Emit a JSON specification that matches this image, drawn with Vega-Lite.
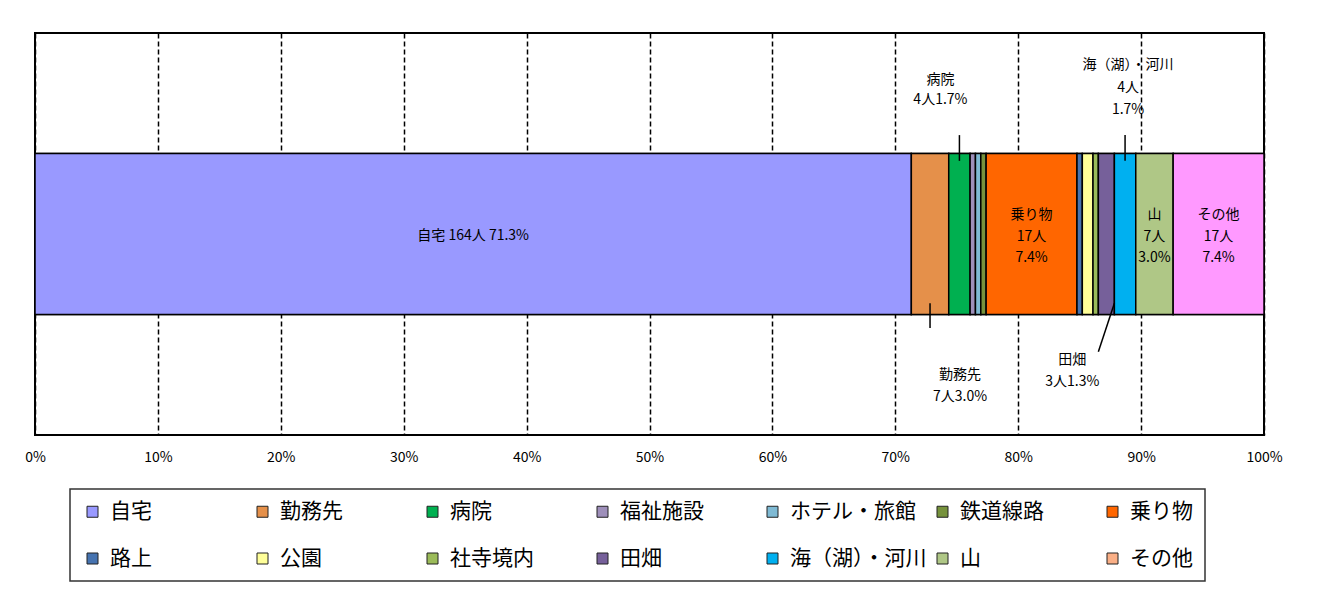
{
  "$schema": "https://vega.github.io/schema/vega-lite/v6.json",
  "autosize": {"type": "none"},
  "padding": {"left": 35, "top": 33, "right": 64, "bottom": 164},
  "width": 1229,
  "height": 402,
  "background": "white",
  "data": {
    "values": [
      {"place": "自宅", "count": 164, "label": "自宅 164人 71.3%"},
      {"place": "勤務先", "count": 7, "label": "勤務先\n7人3.0%"},
      {"place": "病院", "count": 4, "label": "病院\n4人1.7%"},
      {"place": "福祉施設", "count": 1, "label": ""},
      {"place": "ホテル・旅館", "count": 1, "label": ""},
      {"place": "鉄道線路", "count": 1, "label": ""},
      {"place": "乗り物", "count": 17, "label": "乗り物\n17人\n7.4%"},
      {"place": "路上", "count": 1, "label": ""},
      {"place": "公園", "count": 2, "label": ""},
      {"place": "社寺境内", "count": 1, "label": ""},
      {"place": "田畑", "count": 3, "label": "田畑\n3人1.3%"},
      {"place": "海（湖）・河川", "count": 4, "label": "海（湖）・河川\n4人\n1.7%"},
      {"place": "山", "count": 7, "label": "山\n7人\n3.0%"},
      {"place": "その他", "count": 17, "label": "その他\n17人\n7.4%"}
    ]
  },
  "transform": [
    {"window": [{"op": "row_number", "as": "rank"}]},
    {"stack": "count", "groupby": [], "sort": [{"field": "rank", "order": "ascending"}], "offset": "normalize", "as": ["x0", "x1"]},
    {"fold": ["x0", "x1"], "as": ["edge", "pos"]},
    {"joinaggregate": [{"op": "mean", "field": "pos", "as": "mid"}], "groupby": ["place"]},
    {"filter": "datum.edge === 'x0'"}
  ],
  "layer": [
    {
      "mark": {"type": "rect", "stroke": "black", "strokeWidth": 1.5},
      "encoding": {
        "x": {
          "field": "x0",
          "type": "quantitative",
          "title": null,
          "scale": {"domain": [0, 1], "nice": false},
          "axis": {"values": [0, 0.1, 0.2, 0.3, 0.4, 0.5, 0.6, 0.7, 0.8, 0.9, 1], "format": ".0%"}
        },
        "x2": {"field": "x1"},
        "y": {"datum": 3, "type": "quantitative", "scale": {"domain": [0, 10]}, "axis": null},
        "y2": {"datum": 7},
        "color": {
          "field": "place",
          "type": "nominal",
          "scale": {
            "domain": ["自宅", "勤務先", "病院", "福祉施設", "ホテル・旅館", "鉄道線路", "乗り物", "路上", "公園", "社寺境内", "田畑", "海（湖）・河川", "山", "その他"],
            "range": ["#9999FF", "#E5904A", "#00B050", "#9E8FBA", "#7FBAD4", "#76923C", "#FF6600", "#4673B0", "#FFFF99", "#9BBB59", "#76609A", "#00B0F0", "#AFC786", "#FAAF86"]
          },
          "legend": {
            "encode": {"symbols": {"update": {"stroke": {"value": "#222222"}, "strokeWidth": {"value": 1}}}}
          }
        }
      }
    },
    {
      "mark": {"type": "rect", "stroke": "black", "strokeWidth": 1.5},
      "encoding": {
        "x": {"field": "x0", "type": "quantitative", "title": null, "scale": {"domain": [0, 1], "nice": false}},
        "x2": {"field": "x1"},
        "y": {"datum": 3, "type": "quantitative", "scale": {"domain": [0, 10]}, "axis": null},
        "y2": {"datum": 7},
        "fill": {
          "field": "place",
          "type": "nominal",
          "scale": {
            "domain": ["自宅", "勤務先", "病院", "福祉施設", "ホテル・旅館", "鉄道線路", "乗り物", "路上", "公園", "社寺境内", "田畑", "海（湖）・河川", "山", "その他"],
            "range": ["#9999FF", "#E5904A", "#00B050", "#9E8FBA", "#7FBAD4", "#76923C", "#FF6600", "#4673B0", "#FFFF99", "#9BBB59", "#76609A", "#00B0F0", "#AFC786", "#FF99FF"]
          },
          "legend": null
        }
      }
    },
    {
      "transform": [{"filter": "datum.place === '自宅'"}],
      "mark": {"type": "text", "fontSize": 14, "baseline": "middle", "align": "center", "color": "black"},
      "encoding": {
        "x": {"field": "mid", "type": "quantitative", "title": null, "scale": {"domain": [0, 1], "nice": false}},
        "y": {"datum": 4.95, "type": "quantitative", "scale": {"domain": [0, 10]}, "axis": null},
        "text": {"field": "label"}
      }
    },
    {
      "transform": [{"filter": {"field": "place", "oneOf": ["乗り物", "山", "その他"]}}],
      "mark": {"type": "text", "fontSize": 14, "lineBreak": "\n", "lineHeight": 21.5, "baseline": "middle", "align": "center", "color": "black"},
      "encoding": {
        "x": {"field": "mid", "type": "quantitative", "title": null, "scale": {"domain": [0, 1], "nice": false}},
        "y": {"datum": 5.47, "type": "quantitative", "scale": {"domain": [0, 10]}, "axis": null},
        "text": {"field": "label"}
      }
    },
    {
      "transform": [{"filter": "datum.place === '病院'"}],
      "mark": {"type": "text", "fontSize": 14, "lineBreak": "\n", "lineHeight": 20, "baseline": "middle", "align": "center", "color": "black", "dx": -19},
      "encoding": {
        "x": {"field": "mid", "type": "quantitative", "title": null, "scale": {"domain": [0, 1], "nice": false}},
        "y": {"datum": 8.83, "type": "quantitative", "scale": {"domain": [0, 10]}, "axis": null},
        "text": {"field": "label"}
      }
    },
    {
      "transform": [{"filter": "datum.place === '海（湖）・河川'"}],
      "mark": {"type": "text", "fontSize": 14, "lineBreak": "\n", "lineHeight": 22.5, "baseline": "middle", "align": "center", "color": "black", "dx": 3},
      "encoding": {
        "x": {"field": "mid", "type": "quantitative", "title": null, "scale": {"domain": [0, 1], "nice": false}},
        "y": {"datum": 9.2, "type": "quantitative", "scale": {"domain": [0, 10]}, "axis": null},
        "text": {"field": "label"}
      }
    },
    {
      "transform": [{"filter": "datum.place === '勤務先'"}],
      "mark": {"type": "text", "fontSize": 14, "lineBreak": "\n", "lineHeight": 22, "baseline": "middle", "align": "center", "color": "black", "dx": 30},
      "encoding": {
        "x": {"field": "mid", "type": "quantitative", "title": null, "scale": {"domain": [0, 1], "nice": false}},
        "y": {"datum": 1.49, "type": "quantitative", "scale": {"domain": [0, 10]}, "axis": null},
        "text": {"field": "label"}
      }
    },
    {
      "transform": [{"filter": "datum.place === '田畑'"}],
      "mark": {"type": "text", "fontSize": 14, "lineBreak": "\n", "lineHeight": 22, "baseline": "middle", "align": "center", "color": "black", "dx": -34},
      "encoding": {
        "x": {"field": "mid", "type": "quantitative", "title": null, "scale": {"domain": [0, 1], "nice": false}},
        "y": {"datum": 1.87, "type": "quantitative", "scale": {"domain": [0, 10]}, "axis": null},
        "text": {"field": "label"}
      }
    },
    {
      "transform": [{"filter": {"field": "place", "oneOf": ["病院", "海（湖）・河川"]}}],
      "mark": {"type": "rule", "color": "black", "strokeWidth": 1.5},
      "encoding": {
        "x": {"field": "mid", "type": "quantitative", "title": null, "scale": {"domain": [0, 1], "nice": false}},
        "y": {"datum": 6.82, "type": "quantitative", "scale": {"domain": [0, 10]}, "axis": null},
        "y2": {"datum": 7.46}
      }
    },
    {
      "transform": [{"filter": "datum.place === '勤務先'"}],
      "mark": {"type": "rule", "color": "black", "strokeWidth": 1.5},
      "encoding": {
        "x": {"field": "mid", "type": "quantitative", "title": null, "scale": {"domain": [0, 1], "nice": false}},
        "y": {"datum": 3.28, "type": "quantitative", "scale": {"domain": [0, 10]}, "axis": null},
        "y2": {"datum": 2.66}
      }
    },
    {
      "transform": [{"filter": "datum.place === '田畑'"}],
      "mark": {"type": "rule", "color": "black", "strokeWidth": 1.5},
      "encoding": {
        "x": {"field": "x1", "type": "quantitative", "title": null, "scale": {"domain": [0, 1], "nice": false}},
        "x2": {"field": "x0"},
        "y": {"datum": 3.28, "type": "quantitative", "scale": {"domain": [0, 10]}, "axis": null},
        "y2": {"datum": 2.07}
      }
    }
  ],
  "config": {
    "font": "Noto Sans CJK JP",
    "view": {"stroke": "black", "strokeWidth": 2},
    "axisX": {
      "grid": true,
      "gridColor": "black",
      "gridDash": [5, 3],
      "gridWidth": 1.5,
      "gridOpacity": 1,
      "ticks": false,
      "domain": false,
      "labelFont": "Noto Sans CJK JP",
      "labelFontSize": 14,
      "labelColor": "black",
      "labelPadding": 15,
      "labelFlush": false
    },
    "legend": {
      "orient": "none",
      "legendX": 35,
      "legendY": 456,
      "direction": "horizontal",
      "columns": 7,
      "title": null,
      "symbolType": "square",
      "symbolSize": 121,
      "symbolStrokeColor": "#222222",
      "symbolStrokeWidth": 1,
      "labelFont": "Noto Sans CJK JP",
      "labelFontSize": 21,
      "labelColor": "black",
      "labelOffset": 7,
      "labelLimit": 300,
      "gridAlign": "all",
      "columnPadding": 5,
      "rowPadding": 25,
      "padding": 12,
      "strokeColor": "#333333",
      "strokeWidth": 1.5
    }
  }
}
